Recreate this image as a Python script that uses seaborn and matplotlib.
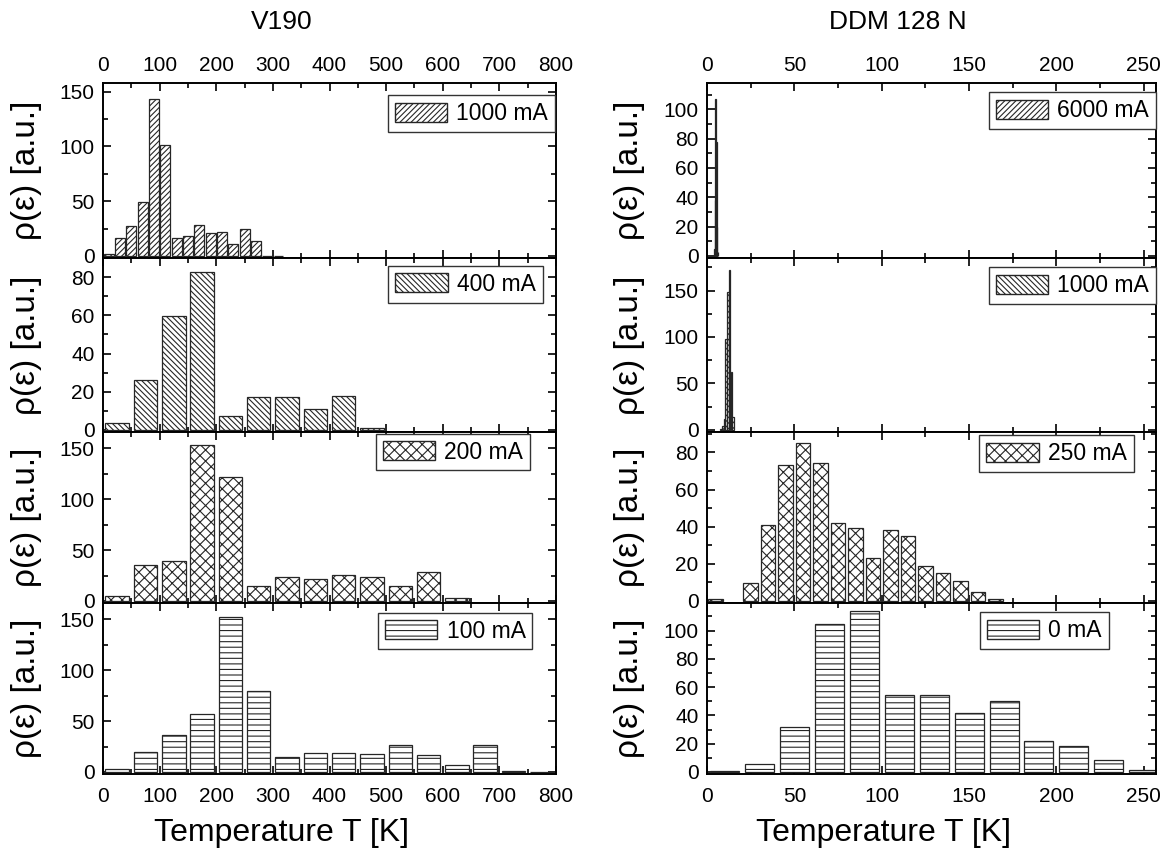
import matplotlib
matplotlib.use("Agg")
import matplotlib.pyplot as plt
import matplotlib.patches as mpatches
from matplotlib.ticker import MultipleLocator
import seaborn as sns

sns.set_style("ticks")
plt.rcParams["font.family"] = ["Liberation Sans", "DejaVu Sans"]
plt.rcParams["hatch.linewidth"] = 0.8
for key in ["text.color", "axes.labelcolor", "xtick.color", "ytick.color", "axes.edgecolor"]:
    plt.rcParams[key] = "black"

# ---------------- data: V190 (left column) ----------------
v_T20 = [10, 30, 50, 70, 90, 110, 130, 150, 170, 190, 210, 230, 250, 270, 290, 310]
v_1000mA = [2, 16.5, 27.5, 49.5, 143, 101.5, 16, 18.5, 28.5, 20.5, 21.5, 11, 25, 13.5, 0.3, 0.3]
v_T50 = [25, 75, 125, 175, 225, 275, 325, 375, 425, 475, 525, 575, 625, 675, 725, 775]
v_400mA = [3.8, 26, 59.7, 82.8, 7.1, 17, 17, 10.7, 17.8, 1.0, 0, 0, 0, 0, 0, 0]
v_200mA = [5.1, 35, 38.8, 153, 121.8, 14.7, 23.7, 21.8, 26, 23.7, 14.7, 28.8, 2.6, 0, 0, 0]
v_100mA = [2.9, 19.9, 35.9, 57, 152, 80, 14.4, 18.9, 18.9, 17.6, 26.3, 17, 7, 26.3, 1.3, 0.3]

# ---------------- data: DDM 128 N (right column) ----------------
d_T6000 = [4.2, 4.6, 5.0, 5.4, 5.8, 6.2]
d_6000mA = [5, 38, 107, 78, 20, 3]
d_T1000 = [8, 9, 10, 11, 12, 13, 14, 15]
d_1000mA = [1, 4, 12, 98, 148, 172, 62, 14]
d_T10 = [5, 15, 25, 35, 45, 55, 65, 75, 85, 95, 105, 115, 125, 135, 145, 155, 165]
d_250mA = [1, 0, 9.8, 41, 73.4, 85.2, 74.2, 41.9, 39.2, 23.2, 38.1, 34.9, 19, 15.2, 11, 5, 1]
d_T20 = [10, 30, 50, 70, 90, 110, 130, 150, 170, 190, 210, 230, 250]
d_0mA = [0.5, 5.5, 31.7, 104.8, 114, 54.4, 54.4, 41.7, 49.9, 21.6, 18.5, 8.4, 1.7]

titles = ["V190", "DDM 128 N"]
xlabel = "Temperature T [K]"
ylabel = "ρ(ε) [a.u.]"

left_panels = [
    (v_T20, v_1000mA, "1000 mA", "//////"),
    (v_T50, v_400mA, "400 mA", "\\\\\\\\\\\\"),
    (v_T50, v_200mA, "200 mA", "xxx"),
    (v_T50, v_100mA, "100 mA", "---"),
]
right_panels = [
    (d_T6000, d_6000mA, "6000 mA", "//////"),
    (d_T1000, d_1000mA, "1000 mA", "\\\\\\\\\\\\"),
    (d_T10, d_250mA, "250 mA", "xxx"),
    (d_T20, d_0mA, "0 mA", "---"),
]

# ---------------- layout (pixels) ----------------
W, H = 1165, 855
fig = plt.figure(figsize=(W / 100, H / 100), dpi=100)

left_x = (103, 556)
right_x = (707, 1156)
panel_y = [(83, 258), (258, 432), (432, 603), (603, 774)]
left_ylim = [158, 90, 166, 166]
right_ylim = [118, 185, 91, 119.5]
left_major = [50, 20, 50, 50]
right_major = [20, 50, 20, 20]
left_leg = [(0.998, 0.93), (0.971, 0.954), (0.943, 0.99), (0.948, 0.943)]
right_leg = [(1.0, 0.948), (1.0, 0.948), (0.951, 0.982), (0.895, 0.947)]
# bar width in units of bin spacing
left_bw = [17.5, 41.5, 41.5, 41.5]
right_bw = [0.36, 0.9, 8.3, 16.6]


def make_axes(xr, yr):
    return fig.add_axes([xr[0] / W, 1 - yr[1] / H, (xr[1] - xr[0]) / W, (yr[1] - yr[0]) / H])


def draw_column(xr, panels, xlim, xmajor, ylims, ymajors, legpos, bws, ylab_x):
    for i, ((xs, ys, lab, hatch), yr) in enumerate(zip(panels, panel_y)):
        ax = make_axes(xr, yr)
        spacing = min(b - a for a, b in zip(xs[:-1], xs[1:]))
        keep = [(x, y) for x, y in zip(xs, ys) if y > 0]
        kx = [k[0] for k in keep]
        ky = [k[1] for k in keep]
        kspacing = min(b - a for a, b in zip(kx[:-1], kx[1:]))
        sns.barplot(x=kx, y=ky, native_scale=True, width=bws[i] / kspacing, color="white",
                    saturation=1, edgecolor="#262626", linewidth=0.9, hatch=hatch,
                    errorbar=None, ax=ax)
        ax.set_xlim(*xlim)
        ax.set_ylim(-0.012 * ylims[i], ylims[i])
        ax.xaxis.set_major_locator(MultipleLocator(xmajor))
        ax.xaxis.set_minor_locator(MultipleLocator(xmajor / 2))
        ax.yaxis.set_major_locator(MultipleLocator(ymajors[i]))
        ax.yaxis.set_minor_locator(MultipleLocator(ymajors[i] / 2))
        ax.tick_params(which="both", direction="in", top=True, right=True,
                       width=1.2, labelsize=15, colors="black")
        ax.tick_params(axis="y", pad=6)
        ax.tick_params(axis="x", pad=(9 if i == 3 else 6))
        ax.tick_params(which="major", length=6)
        ax.tick_params(which="minor", length=3.5)
        ax.tick_params(axis="x", labelbottom=(i == 3), labeltop=(i == 0))
        for s in ax.spines.values():
            s.set_linewidth(1.4)
            s.set_color("black")
        ax.set_xlabel("")
        ax.set_ylabel(ylabel, fontsize=24, color="black")
        ax.yaxis.set_label_coords(ylab_x, 0.5)
        handle = mpatches.Patch(facecolor="white", edgecolor="#262626", hatch=hatch, label=lab)
        leg = ax.legend(handles=[handle], loc="upper right", bbox_to_anchor=legpos[i],
                        borderaxespad=0, fontsize=16.5, frameon=True, fancybox=False,
                        framealpha=1, edgecolor="#333333", handlelength=2.3,
                        handleheight=0.9, handletextpad=0.4, borderpad=0.3)
        leg.get_frame().set_linewidth(1.0)
        for t in leg.get_texts():
            t.set_color("black")


draw_column(left_x, left_panels, (0, 800), 100, left_ylim, left_major, left_leg, left_bw, -0.135)
draw_column(right_x, right_panels, (0, 257), 50, right_ylim, right_major, right_leg, right_bw, -0.138)

fig.text(282 / W, 1 - 22 / H, titles[0], ha="center", va="center", fontsize=19, color="black")
fig.text(898 / W, 1 - 22 / H, titles[1], ha="center", va="center", fontsize=19, color="black")
fig.text(282 / W, 1 - 833 / H, xlabel, ha="center", va="center", fontsize=23, color="black")
fig.text(883 / W, 1 - 833 / H, xlabel, ha="center", va="center", fontsize=23, color="black")

fig.savefig("out.png", dpi=100, facecolor="white")
